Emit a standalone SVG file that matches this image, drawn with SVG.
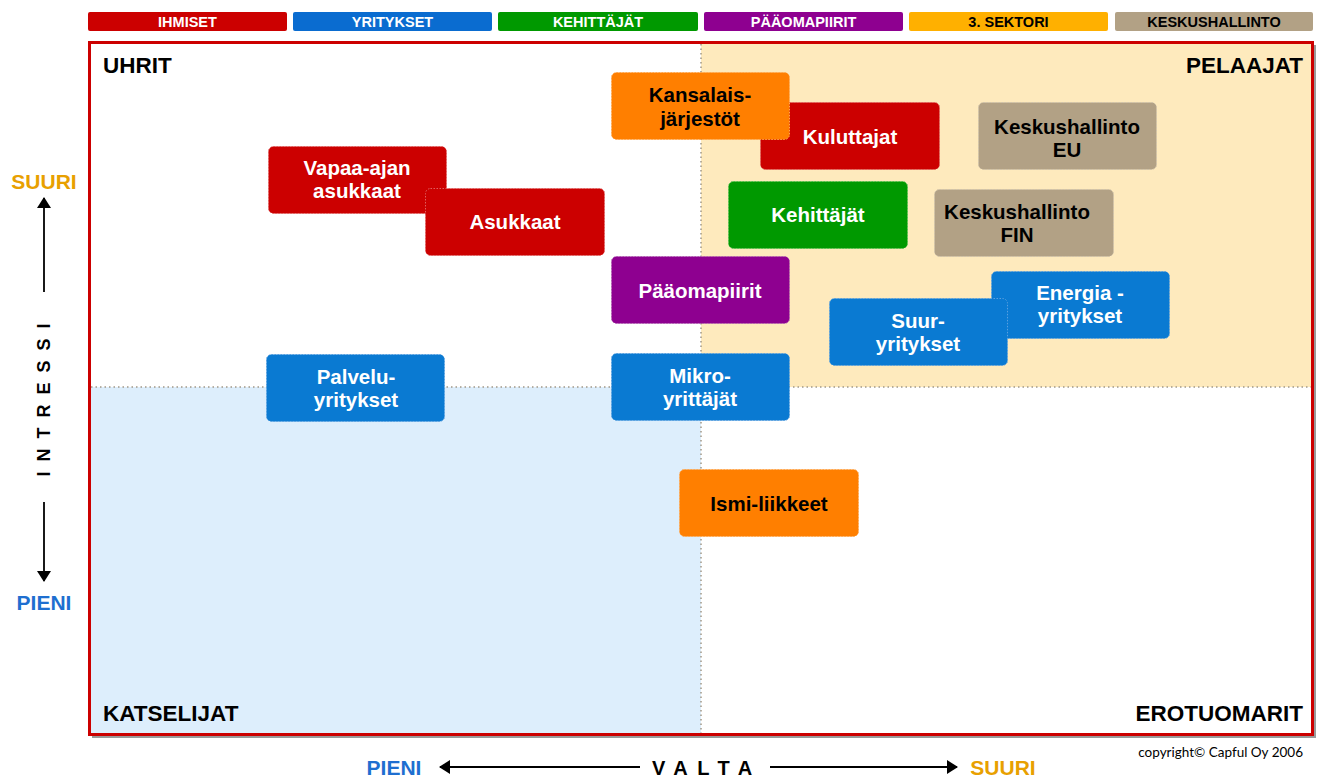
<svg xmlns="http://www.w3.org/2000/svg" width="1317" height="778" viewBox="0 0 1317 778">
<style>
.lg{font-family:"Liberation Sans",Arial,sans-serif;font-weight:bold;font-size:14.5px;text-anchor:middle}
.nd{stroke-width:1;stroke-dasharray:1.5 1.5}
.nt{font-family:"Liberation Sans",Arial,sans-serif;font-weight:bold;font-size:20.5px;text-anchor:middle}
.w{fill:#ffffff}
.b{fill:#000000}
.cl{font-family:"Liberation Sans",Arial,sans-serif;font-weight:bold;font-size:22.5px;fill:#000}
.ax{font-family:"Liberation Sans",Arial,sans-serif;font-weight:bold;font-size:21px;text-anchor:middle}
.red{fill:#CC0000;stroke:#E06060}
.blue{fill:#0A7AD2;stroke:#5AA0E0}
.green{fill:#009900;stroke:#50C050}
.purple{fill:#8E0090;stroke:#B060B0}
.orange{fill:#FF7F00;stroke:#FFA850}
.tan{fill:#B2A185;stroke:#CFC2AC}
.arr{stroke:#000;stroke-width:1.8;marker-end:url(#ah)}
</style>
<defs>
<marker id="ah" viewBox="0 0 11 14" refX="10" refY="7" markerWidth="11" markerHeight="14" markerUnits="userSpaceOnUse" orient="auto">
<path d="M0,0 L11,7 L0,14 Z" fill="#000"/>
</marker>
</defs>
<rect width="1317" height="778" fill="#fff"/>

<g id="legend">
<rect x="88" y="12" width="199" height="19" rx="2" fill="#CC0000"/>
<text class="lg w" x="187.5" y="27">IHMISET</text>
<rect x="293" y="12" width="199" height="19" rx="2" fill="#0A6CD0"/>
<text class="lg w" x="392.5" y="27">YRITYKSET</text>
<rect x="498" y="12" width="200" height="19" rx="2" fill="#009900"/>
<text class="lg w" x="598" y="27">KEHITTÄJÄT</text>
<rect x="704" y="12" width="199" height="19" rx="2" fill="#8E0090"/>
<text class="lg w" x="803.5" y="27">PÄÄOMAPIIRIT</text>
<rect x="909" y="12" width="199" height="19" rx="2" fill="#FFB000"/>
<text class="lg b" x="1008.5" y="27">3. SEKTORI</text>
<rect x="1115" y="12" width="198" height="19" rx="2" fill="#B2A185"/>
<text class="lg b" x="1214" y="27">KESKUSHALLINTO</text>
</g>

<g id="frame">
<rect x="92" y="45" width="1224" height="693" fill="#9a9a9a"/>
<rect x="89.5" y="42.5" width="1223" height="692" fill="#fff" stroke="#CC0000" stroke-width="3"/>
<rect x="701" y="44" width="610" height="343" fill="#FEEABD"/>
<rect x="91" y="387" width="610" height="346" fill="#DDEEFC"/>
<line x1="701" y1="44" x2="701" y2="733" stroke="#A09888" stroke-width="1.5" stroke-dasharray="1.5 3"/>
<line x1="91" y1="387" x2="1311" y2="387" stroke="#A09888" stroke-width="1.5" stroke-dasharray="1.5 3"/>
<text class="cl" x="103" y="73">UHRIT</text>
<text class="cl" x="1303" y="73" text-anchor="end">PELAAJAT</text>
<text class="cl" x="103" y="721">KATSELIJAT</text>
<text class="cl" x="1303" y="721" text-anchor="end">EROTUOMARIT</text>
</g>

<g id="connectors">
<line class="arr" x1="44" y1="292" x2="44" y2="198"/>
<line class="arr" x1="44" y1="502" x2="44" y2="581"/>
<line class="arr" x1="640" y1="767" x2="440" y2="767"/>
<line class="arr" x1="770" y1="767" x2="957" y2="767"/>
</g>

<g id="axis-labels">
<text class="ax" x="44" y="189" fill="#E8A000">SUURI</text>
<text class="ax" x="44" y="610" fill="#1E6FD0">PIENI</text>
<text x="50" y="395" transform="rotate(-90 50 395)" font-family="Liberation Sans, Arial, sans-serif" font-weight="bold" font-size="18" letter-spacing="10" text-anchor="middle" fill="#000">INTRESSI</text>
<text class="ax" x="394" y="775" fill="#1E6FD0">PIENI</text>
<text x="652" y="775" font-family="Liberation Sans, Arial, sans-serif" font-weight="bold" font-size="20" letter-spacing="9.5" fill="#000">VALTA</text>
<text class="ax" x="1003" y="775" fill="#E8A000">SUURI</text>
<text x="1303" y="757" text-anchor="end" font-family="Lato, 'Open Sans', sans-serif" font-size="13.5" fill="#000">copyright© Capful Oy 2006</text>
</g>

<g id="node-kuluttajat">
<rect class="nd red" x="760.5" y="102.5" width="179" height="67" rx="5"/>
<text class="nt w" x="850" y="144">Kuluttajat</text>
</g>
<g id="node-kansalaisjarjestot">
<rect class="nd orange" x="611.5" y="72.5" width="178" height="67" rx="5"/>
<text class="nt b" x="700" y="102">Kansalais-</text>
<text class="nt b" x="700" y="126">järjestöt</text>
</g>
<g id="node-keskushallinto-eu">
<rect class="nd tan" x="978.5" y="102.5" width="178" height="67" rx="5"/>
<text class="nt b" x="1067" y="134">Keskushallinto</text>
<text class="nt b" x="1067" y="157">EU</text>
</g>
<g id="node-vapaa-ajan-asukkaat">
<rect class="nd red" x="268.5" y="146.5" width="178" height="67" rx="5"/>
<text class="nt w" x="357" y="175">Vapaa-ajan</text>
<text class="nt w" x="357" y="198">asukkaat</text>
</g>
<g id="node-asukkaat">
<rect class="nd red" x="425.5" y="188.5" width="179" height="67" rx="5"/>
<text class="nt w" x="515" y="229">Asukkaat</text>
</g>
<g id="node-kehittajat">
<rect class="nd green" x="728.5" y="181.5" width="179" height="67" rx="5"/>
<text class="nt w" x="818" y="222">Kehittäjät</text>
</g>
<g id="node-keskushallinto-fin">
<rect class="nd tan" x="934.5" y="189.5" width="179" height="67" rx="5"/>
<text class="nt b" x="1017" y="219">Keskushallinto</text>
<text class="nt b" x="1017" y="242">FIN</text>
</g>
<g id="node-paaomapiirit">
<rect class="nd purple" x="611.5" y="256.5" width="178" height="67" rx="5"/>
<text class="nt w" x="700" y="298">Pääomapiirit</text>
</g>
<g id="node-energia-yritykset">
<rect class="nd blue" x="991.5" y="271.5" width="178" height="67" rx="5"/>
<text class="nt w" x="1080" y="300">Energia -</text>
<text class="nt w" x="1080" y="323">yritykset</text>
</g>
<g id="node-suuryritykset">
<rect class="nd blue" x="829.5" y="298.5" width="178" height="67" rx="5"/>
<text class="nt w" x="918" y="328">Suur-</text>
<text class="nt w" x="918" y="351">yritykset</text>
</g>
<g id="node-palveluyritykset">
<rect class="nd blue" x="266.5" y="354.5" width="178" height="67" rx="5"/>
<text class="nt w" x="356" y="384">Palvelu-</text>
<text class="nt w" x="356" y="407">yritykset</text>
</g>
<g id="node-mikroyrittajat">
<rect class="nd blue" x="611.5" y="353.5" width="178" height="67" rx="5"/>
<text class="nt w" x="700" y="383">Mikro-</text>
<text class="nt w" x="700" y="406">yrittäjät</text>
</g>
<g id="node-ismi-liikkeet">
<rect class="nd orange" x="679.5" y="469.5" width="179" height="67" rx="5"/>
<text class="nt b" x="769" y="511">Ismi-liikkeet</text>
</g>
</svg>
